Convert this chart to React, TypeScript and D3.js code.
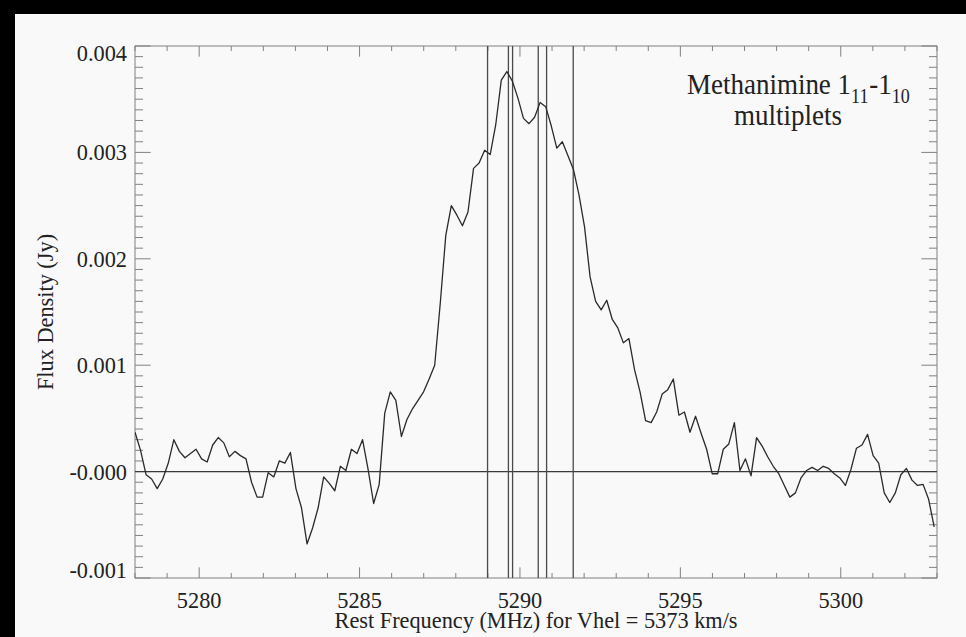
import React from "react";
import * as d3 from "d3";

// Spectrum channels: first channel frequency and channel spacing (MHz)
const channelStart = 5278.0;
const channelWidth = 0.173;

// Flux density per channel (Jy)
const flux = [
  0.00037, 0.0002, -0.00003, -0.00007, -0.00016, -0.00007, 0.00008, 0.0003, 0.00019, 0.00013,
  0.00017, 0.00021, 0.00012, 0.00009, 0.00025, 0.00032, 0.00027, 0.00014, 0.00019, 0.00015,
  0.00012, -0.0001, -0.00024, -0.00024, -0.00001, -0.00005, 0.0001, 0.00008, 0.00018, -0.00016,
  -0.00034, -0.00068, -0.00053, -0.00034, -0.00005, -0.00011, -0.00018, 0.00005, 0.00001, 0.00021,
  0.00017, 0.0003, 0.00002, -0.0003, -0.00012, 0.00055, 0.00075, 0.00067, 0.00033, 0.00049,
  0.00059, 0.00067, 0.00075, 0.00087, 0.001, 0.00158, 0.00222, 0.0025, 0.00241, 0.00231,
  0.00244, 0.00285, 0.0029, 0.00302, 0.00298, 0.00326, 0.00368, 0.00376, 0.00367, 0.00351,
  0.00332, 0.00327, 0.00333, 0.00347, 0.00343, 0.00325, 0.00304, 0.0031, 0.00297, 0.00284,
  0.0026, 0.0023, 0.00183, 0.0016, 0.00152, 0.00161, 0.00143, 0.00135, 0.00121, 0.00125,
  0.00096, 0.00075, 0.00048, 0.00046, 0.00056, 0.00073, 0.00077, 0.00087, 0.00053, 0.00056,
  0.00037, 0.00052, 0.00036, 0.00021, -0.00002, -0.00002, 0.00021, 0.00026, 0.00046, 0.00001,
  0.00012, -0.00004, 0.00032, 0.00024, 0.00014, 0.00005, -0.00002, -0.00013, -0.00024, -0.0002,
  -0.00006, 0.00001, 0.00004, 0.00001, 0.00005, 0.00003, -0.00002, -0.00006, -0.00013, 0.00002,
  0.00022, 0.00025, 0.00035, 0.00015, 0.00008, -0.0002, -0.00029, -0.0002, -0.00003, 0.00003,
  -0.00008, -0.00013, -0.00012, -0.00026, -0.00052,
];

// Rest frequencies of the hyperfine components (MHz)
const multipletFreqs = [5288.99, 5289.64, 5289.77, 5290.57, 5290.83, 5291.66];

const xTickValues = [5280, 5285, 5290, 5295, 5300];
const xTickLabels = ["5280", "5285", "5290", "5295", "5300"];
const yTickValues = [-0.001, 0, 0.001, 0.002, 0.003, 0.004];
const yTickLabels = ["-0.001", "-0.000", "0.001", "0.002", "0.003", "0.004"];

const W = 966;
const H = 637;
const plot = { left: 135, right: 937, top: 46, bottom: 578 };
const FONT = '"Liberation Serif", "Times New Roman", serif';
const TEXT = "#222";
const AXIS = "#808080";

type CTextProps = {
  x: number;
  y: number;
  size: number;
  sx?: number;
  rotate?: number;
  anchor?: "start" | "middle" | "end";
  children: React.ReactNode;
};

function CText({ x, y, size, sx = 0.93, rotate = 0, anchor = "middle", children }: CTextProps) {
  return (
    <text
      transform={`translate(${x},${y}) rotate(${rotate}) scale(${sx},1)`}
      textAnchor={anchor}
      fontFamily={FONT}
      fontSize={size}
      fill={TEXT}
    >
      {children}
    </text>
  );
}

export default function App() {
  const x = d3.scaleLinear().domain([5278, 5303]).range([plot.left, plot.right]);
  const y = d3.scaleLinear().domain([-0.001, 0.004]).range([plot.bottom, plot.top]);

  const points: [number, number][] = flux.map((v, i) => [channelStart + i * channelWidth, v]);
  const line = d3
    .line<[number, number]>()
    .x((d) => x(d[0]))
    .y((d) => y(d[1]));

  const xMinor = d3.range(5278, 5303.001, 1);
  const yMinor = d3.range(-10, 41).map((k) => k / 10000);
  const isMajorX = (v: number) => Math.abs(v / 5 - Math.round(v / 5)) < 1e-6;
  const isMajorY = (v: number) => Math.abs(v * 1000 - Math.round(v * 1000)) < 1e-6;

  return (
    <svg
      width={W}
      height={H}
      style={{ position: "fixed", left: 0, top: 0, display: "block" }}
    >
      <rect x={0} y={0} width={W} height={H} fill="#000" />
      <rect x={15} y={14} width={W - 15} height={H - 14} fill="#f9f9f9" />

      <defs>
        <clipPath id="plot-area">
          <rect
            x={plot.left}
            y={plot.top}
            width={plot.right - plot.left}
            height={plot.bottom - plot.top}
          />
        </clipPath>
      </defs>

      {/* x ticks, bottom and top */}
      {xMinor.map((v) => {
        const len = isMajorX(v) ? 10.7 : 5;
        const px = x(v);
        return (
          <g key={`xt${v}`} stroke={AXIS} strokeWidth={1}>
            <line x1={px} x2={px} y1={plot.bottom} y2={plot.bottom - len} />
            <line x1={px} x2={px} y1={plot.top} y2={plot.top + len} />
          </g>
        );
      })}

      {/* y ticks, left and right */}
      {yMinor.map((v) => {
        const len = isMajorY(v) ? 15.7 : 8;
        const py = y(v);
        return (
          <g key={`yt${v}`} stroke={AXIS} strokeWidth={1}>
            <line x1={plot.left} x2={plot.left + len} y1={py} y2={py} />
            <line x1={plot.right} x2={plot.right - len} y1={py} y2={py} />
          </g>
        );
      })}

      {/* frame */}
      <rect
        x={plot.left}
        y={plot.top}
        width={plot.right - plot.left}
        height={plot.bottom - plot.top}
        fill="none"
        stroke={AXIS}
        strokeWidth={1}
      />

      <g clipPath="url(#plot-area)">
        {/* zero level */}
        <line
          x1={plot.left}
          x2={plot.right}
          y1={y(0)}
          y2={y(0)}
          stroke="#3a3a3a"
          strokeWidth={1.3}
        />
        {/* multiplet component markers */}
        {multipletFreqs.map((f) => (
          <line
            key={`m${f}`}
            x1={x(f)}
            x2={x(f)}
            y1={plot.top}
            y2={plot.bottom}
            stroke="#4a4a4a"
            strokeWidth={1.3}
          />
        ))}
        {/* spectrum */}
        <path d={line(points) ?? ""} fill="none" stroke="#2a2a2a" strokeWidth={1.3} strokeLinejoin="round" />
      </g>

      {/* x tick labels */}
      {xTickValues.map((v, i) => (
        <CText key={`xl${v}`} x={x(v)} y={608} size={24}>
          {xTickLabels[i]}
        </CText>
      ))}

      {/* y tick labels, kept inside the frame's vertical extent */}
      {yTickValues.map((v, i) => {
        const base = Math.min(Math.max(y(v) + 8, plot.top + 14.5), plot.bottom);
        return (
          <CText key={`yl${v}`} x={127} y={base} size={24} anchor="end">
            {yTickLabels[i]}
          </CText>
        );
      })}

      {/* axis titles */}
      <CText x={(plot.left + plot.right) / 2} y={628} size={24}>
        Rest Frequency (MHz) for Vhel = 5373 km/s
      </CText>
      <CText x={53} y={(plot.top + plot.bottom) / 2} size={24} rotate={-90}>
        Flux Density (Jy)
      </CText>

      {/* annotation */}
      <CText x={687} y={94} size={30} sx={0.9} anchor="start">
        <tspan>Methanimine 1</tspan>
        <tspan fontSize={20} dy={9}>11</tspan>
        <tspan dy={-9} dx={1}>-1</tspan>
        <tspan fontSize={20} dy={9}>10</tspan>
      </CText>
      <CText x={788} y={125} size={30} sx={0.9}>
        multiplets
      </CText>
    </svg>
  );
}
